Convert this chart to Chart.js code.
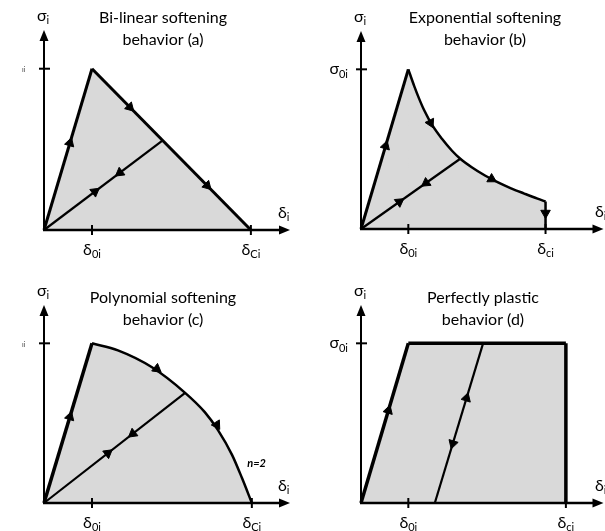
<!DOCTYPE html>
<html>
<head>
<meta charset="utf-8">
<script src="https://cdn.jsdelivr.net/npm/chart.js@4.4.1/dist/chart.umd.min.js"></script>
<style>
body { margin:0; background:#fff; overflow:hidden; width:605px; height:531px; position:relative; }
canvas { position:absolute; }
</style>
</head>
<body>
<canvas id="chartA" width="300" height="265" style="left:0;top:0"></canvas>
<canvas id="chartB" width="310" height="265" style="left:300px;top:0"></canvas>
<canvas id="chartC" width="300" height="266" style="left:0;top:265px"></canvas>
<canvas id="chartD" width="310" height="266" style="left:300px;top:265px"></canvas>
<script>
// axes are normalised: delta_0i = 1, sigma_0i = 1
var xAxisMax = 5.125;
var yAxisMax = 1.24;
var delta0 = 1;
var sigma0 = 1;

// (a) bi-linear softening
var aLoading = [[0,0],[1,1]];
var aSoftening = [[1,1],[4.31,0]];
var aUnloading = [[0,0],[2.46,0.553]];
var aArrows = [[0.54,0.54,1,1],[1.79,0.761,3.31,-1],[3.4,0.275,3.31,-1],[1.58,0.355,-2.46,-0.553],[1.06,0.238,2.46,0.553]];
var aDeltaC = 4.31;

// (b) exponential softening
var bLoading = [[0,0],[1,1]];
var bSoftening = [[1,1],[1.125,0.895],[1.23,0.815],[1.333,0.745],[1.506,0.65],[1.715,0.563],[1.923,0.49],[2.098,0.44],[2.34,0.387],[2.62,0.335],[2.896,0.292],[3.17,0.255],[3.45,0.222],[3.73,0.19],[3.9,0.172]];
var bDrop = [[3.9,0.172],[3.9,0]];
var bUnloading = [[0,0],[2.098,0.44]];
var bArrows = [[0.52,0.52,1,1],[1.47,0.665,1,-0.6],[2.76,0.313,1,-0.17],[3.9,0.1,0,-1],[1.375,0.288,-2.098,-0.44],[0.81,0.17,2.098,0.44]];
var bDeltaC = 3.9;

// (c) polynomial softening, n=2
var cLoading = [[0,0],[1,1]];
var cSoftening = [[1,1],[1.54,0.956],[2.25,0.85],[2.94,0.69],[3.35,0.569],[3.625,0.456],[3.92,0.3],[4.125,0.156],[4.33,0]];
var cUnloading = [[0,0],[2.94,0.69]];
var cArrows = [[0.54,0.54,1,1],[2.35,0.84,0.69,-0.16],[3.6,0.49,0.57,-0.27],[1.85,0.434,-2.94,-0.69],[1.33,0.312,2.94,0.69]];
var cDeltaC = 4.33;

// (d) perfectly plastic
var dLoading = [[0,0],[1,1]];
var dPlateau = [[1,1],[4.33,1]];
var dDrop = [[4.33,1],[4.33,0]];
var dUnloading = [[1.56,0],[2.58,1]];
var dArrows = [[0.58,0.58,1,1],[2.23,0.657,1.02,1],[1.94,0.372,-1.02,-1]];
var dDeltaC = 4.33;

var FONT = 'Lato, "Open Sans", "DejaVu Sans", sans-serif';
var FILL = '#d9d9d9';

function pts(arr){
    return arr.map(function(p){ return {x:p[0], y:p[1]}; });
}

// grey area under the whole envelope (straight pieces), drawn at the bottom
function areaSet(){
    var all = [];
    for(var i = 0; i < arguments.length; i++){
        all = all.concat(arguments[i]);
    }
    return {
        data: pts(all),
        showLine: true,
        borderWidth: 0,
        borderColor: FILL,
        backgroundColor: FILL,
        fill: 'origin',
        pointRadius: 0,
        tension: 0,
        clip: false,
        order: 4
    };
}

function lineSet(arr, width, order, curved){
    return {
        data: pts(arr),
        showLine: true,
        borderColor: '#000',
        borderWidth: width,
        backgroundColor: FILL,
        fill: curved ? 'origin' : false,
        pointRadius: 0,
        cubicInterpolationMode: curved ? 'monotone' : 'default',
        tension: 0,
        clip: false,
        order: order
    };
}

function arrowSet(arrows){
    return {
        data: arrows.map(function(a){ return {x:a[0], y:a[1]}; }),
        showLine: false,
        pointStyle: 'triangle',
        pointRadius: 5.5,
        pointBackgroundColor: '#000',
        pointBorderColor: '#000',
        pointBorderWidth: 1,
        clip: false,
        order: 0,
        pointRotation: function(ctx){
            var a = arrows[ctx.dataIndex];
            if(!a) return 0;
            var xs = ctx.chart.scales.x, ys = ctx.chart.scales.y;
            var dx = xs.getPixelForValue(a[0]+a[2]) - xs.getPixelForValue(a[0]);
            var dy = ys.getPixelForValue(a[1]+a[3]) - ys.getPixelForValue(a[1]);
            return Math.atan2(dx, -dy) * 180 / Math.PI;
        }
    };
}

function subText(ctx, base, sub, x, y, align, size){
    var subSize = Math.round(size * 0.66);
    ctx.font = size + 'px ' + FONT;
    var w1 = ctx.measureText(base).width;
    ctx.font = subSize + 'px ' + FONT;
    var w2 = ctx.measureText(sub).width;
    var left = x;
    if(align == 'center') left = x - (w1 + w2) / 2;
    if(align == 'right') left = x - w1 - w2;
    ctx.textAlign = 'left';
    ctx.textBaseline = 'middle';
    ctx.font = size + 'px ' + FONT;
    ctx.fillText(base, left, y);
    ctx.font = subSize + 'px ' + FONT;
    ctx.fillText(sub, left + w1, y + size * 0.3);
}

function axesPlugin(info){
    return {
        id: 'axes' + info.id,
        afterDatasetsDraw: function(chart){
            var ctx = chart.ctx;
            var xs = chart.scales.x, ys = chart.scales.y;
            var x0 = xs.getPixelForValue(0), y0 = ys.getPixelForValue(0);
            var xEnd = xs.getPixelForValue(xAxisMax), yEnd = ys.getPixelForValue(yAxisMax);
            ctx.save();
            ctx.strokeStyle = '#000';
            ctx.fillStyle = '#000';
            ctx.lineWidth = 2.5;
            // x axis
            ctx.beginPath();
            ctx.moveTo(x0 - 1, y0);
            ctx.lineTo(xEnd - 8, y0);
            ctx.stroke();
            ctx.beginPath();
            ctx.moveTo(xEnd, y0);
            ctx.lineTo(xEnd - 11, y0 - 4.5);
            ctx.lineTo(xEnd - 11, y0 + 4.5);
            ctx.closePath();
            ctx.fill();
            // y axis
            ctx.lineWidth = 2;
            ctx.beginPath();
            ctx.moveTo(x0, y0 + 1);
            ctx.lineTo(x0, yEnd + 8);
            ctx.stroke();
            ctx.beginPath();
            ctx.moveTo(x0, yEnd);
            ctx.lineTo(x0 - 4.5, yEnd + 11);
            ctx.lineTo(x0 + 4.5, yEnd + 11);
            ctx.closePath();
            ctx.fill();
            // ticks
            var tx = [xs.getPixelForValue(delta0), xs.getPixelForValue(info.deltaC)];
            ctx.lineWidth = 2;
            tx.forEach(function(t){
                ctx.beginPath();
                ctx.moveTo(t, y0 - 5);
                ctx.lineTo(t, y0 + 5);
                ctx.stroke();
            });
            var ty = ys.getPixelForValue(sigma0);
            ctx.beginPath();
            ctx.moveTo(x0 - 5, ty);
            ctx.lineTo(x0 + 6, ty);
            ctx.stroke();
            // labels
            subText(ctx, 'σ', 'i', x0 - 7, yEnd - 14, 'left', 16);
            subText(ctx, 'δ', 'i', x0 + 234, y0 - 17, 'left', 16);
            subText(ctx, 'δ', '0i', tx[0], y0 + 20, 'center', 16);
            subText(ctx, 'δ', info.cSub, tx[1], y0 + 20, 'center', 16);
            if(info.sigmaLabel){
                subText(ctx, 'σ', '0i', x0 - 13, ty, 'right', 16);
            } else {
                ctx.font = '7px ' + FONT;
                ctx.fillStyle = '#444';
                ctx.textAlign = 'left';
                ctx.fillText('ıi', x0 - 22, ty + 1);
                ctx.fillStyle = '#000';
            }
            // title
            ctx.font = '16px ' + FONT;
            ctx.textAlign = 'center';
            ctx.textBaseline = 'middle';
            ctx.fillText(info.title[0], info.titleX, info.titleY);
            ctx.fillText(info.title[1], info.titleX, info.titleY + 22);
            if(info.note){
                ctx.font = 'italic bold 11px ' + FONT;
                ctx.fillText(info.note, xs.getPixelForValue(info.noteAt[0]), ys.getPixelForValue(info.noteAt[1]));
            }
            ctx.restore();
        }
    };
}

function makePanel(id, datasets, padding, info){
    var el = document.getElementById(id);
    info.id = id;
    return new Chart(el.getContext('2d'), {
        type: 'scatter',
        data: { datasets: datasets },
        options: {
            responsive: false,
            animation: false,
            events: [],
            layout: { padding: padding },
            scales: {
                x: { type: 'linear', min: 0, max: xAxisMax, display: false },
                y: { type: 'linear', min: 0, max: yAxisMax, display: false }
            },
            plugins: { legend: { display: false }, tooltip: { enabled: false } }
        },
        plugins: [axesPlugin(info)]
    });
}

makePanel('chartA', [
    areaSet(aLoading, aSoftening),
    lineSet(aLoading, 3, 2),
    lineSet(aSoftening, 3, 2),
    lineSet(aUnloading, 2.2, 1),
    arrowSet(aArrows)
], {left:44, top:30, right:10, bottom:35},
{deltaC: aDeltaC, cSub: 'Ci', sigmaLabel: false, title: ['Bi-linear softening', 'behavior (a)'], titleX: 163, titleY: 18});

makePanel('chartB', [
    areaSet(bLoading, bSoftening, bDrop),
    lineSet(bSoftening, 2.5, 3, true),
    lineSet(bLoading, 3, 2),
    lineSet(bDrop, 2.5, 2),
    lineSet(bUnloading, 2.2, 1),
    arrowSet(bArrows)
], {left:61, top:31, right:3, bottom:36},
{deltaC: bDeltaC, cSub: 'ci', sigmaLabel: true, title: ['Exponential softening', 'behavior (b)'], titleX: 185, titleY: 18});

makePanel('chartC', [
    areaSet(cLoading, cSoftening),
    lineSet(cSoftening, 2.5, 3, true),
    lineSet(cLoading, 3.5, 2),
    lineSet(cUnloading, 2.2, 1),
    arrowSet(cArrows)
], {left:44, top:40, right:10, bottom:28},
{deltaC: cDeltaC, cSub: 'Ci', sigmaLabel: false, title: ['Polynomial softening', 'behavior (c)'], titleX: 163, titleY: 33, note: 'n=2', noteAt: [4.43, 0.25]});

makePanel('chartD', [
    areaSet(dLoading, dPlateau, dDrop),
    lineSet(dLoading, 3.5, 2),
    lineSet(dPlateau, 3.5, 2),
    lineSet(dDrop, 3.5, 2),
    lineSet(dUnloading, 2.2, 1),
    arrowSet(dArrows)
], {left:61, top:40, right:3, bottom:28},
{deltaC: dDeltaC, cSub: 'ci', sigmaLabel: true, title: ['Perfectly plastic', 'behavior (d)'], titleX: 183, titleY: 33});
</script>
</body>
</html>
